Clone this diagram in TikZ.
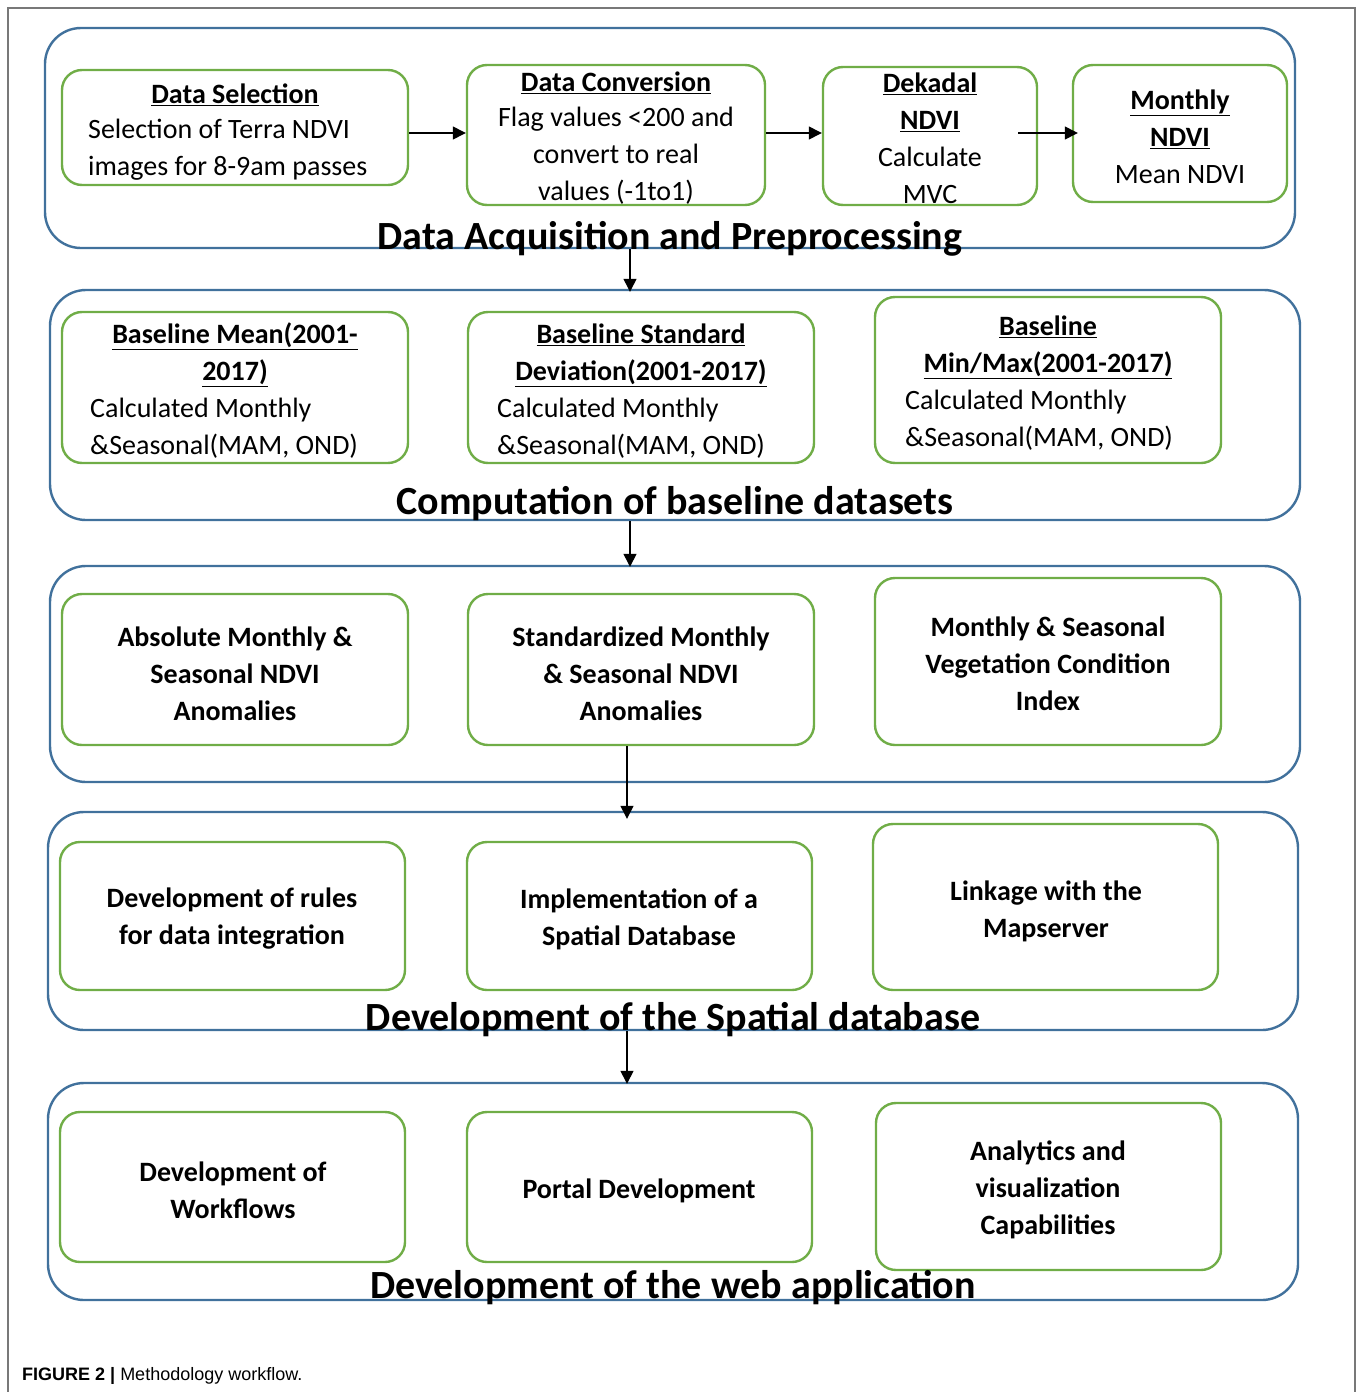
\documentclass[tikz,border=0pt]{standalone}
\usepackage{fontspec}
\setmainfont{Carlito}
\newfontfamily\capfont{Liberation Sans}
\usetikzlibrary{arrows.meta,fit}
\definecolor{grpblue}{RGB}{65,113,156}
\definecolor{boxgreen}{RGB}{112,173,71}
\definecolor{framegray}{RGB}{120,120,120}
\begin{document}
\begin{tikzpicture}[x=1pt,y=-1pt,
  grp/.style={draw=grpblue,line width=2.4pt,rounded corners=36pt,inner sep=0pt},
  gbox/.style={draw=boxgreen,line width=2.4pt,rounded corners=20pt,inner sep=0pt},
  body/.style={font=\fontsize{28}{37}\selectfont,inner sep=0pt,align=center},
  bodyl/.style={font=\fontsize{28}{37}\selectfont,inner sep=0pt,anchor=west,align=left},
  bbody/.style={font=\fontsize{28}{37}\selectfont\bfseries,inner sep=0pt,align=center},
  ttl/.style={font=\fontsize{40}{46}\selectfont\bfseries,inner sep=0pt},
  arr/.style={line width=1.3pt,-{Triangle[width=13pt,length=13pt]}}]
\useasboundingbox (0,0) rectangle (1358,1392);
\draw[framegray,line width=1.4pt] (8,1392) -- (8,8) -- (1355,8) -- (1355,1392);

% groups
\node[grp,fit={(45,28) (1295,248)}] (g1) {};
\node[grp,fit={(50,290) (1300,520)}] (g2) {};
\node[grp,fit={(50,566) (1300,782)}] (g3) {};
\node[grp,fit={(48,812) (1298,1030)}] (g4) {};
\node[grp,fit={(48,1083) (1298,1300)}] (g5) {};

% boxes
\node[gbox,fit={(62,70) (408,185)}] (b11) {};
\node[gbox,fit={(467,65) (765,205)}] (b12) {};
\node[gbox,fit={(823,67) (1037,205)}] (b13) {};
\node[gbox,fit={(1073,65) (1287,202)}] (b14) {};
\node[gbox,fit={(62,312) (408,463)}] (b21) {};
\node[gbox,fit={(468,312) (814,463)}] (b22) {};
\node[gbox,fit={(875,297) (1221,463)}] (b23) {};
\node[gbox,fit={(62,594) (408,745)}] (b31) {};
\node[gbox,fit={(468,594) (814,745)}] (b32) {};
\node[gbox,fit={(875,578) (1221,745)}] (b33) {};
\node[gbox,fit={(60,842) (405,990)}] (b41) {};
\node[gbox,fit={(467,842) (812,990)}] (b42) {};
\node[gbox,fit={(873,824) (1218,990)}] (b43) {};
\node[gbox,fit={(60,1112) (405,1262)}] (b51) {};
\node[gbox,fit={(467,1112) (812,1262)}] (b52) {};
\node[gbox,fit={(876,1103) (1221,1270)}] (b53) {};

\begin{scope}[yshift=-2.5pt]
% group 1 texts
\node[bbody] (t11h) at (235,92) {\underline{Data Selection}};
\node[bodyl] (t11b) at (88,147.5) {Selection of Terra NDVI\\images for 8-9am passes};
\node[bbody] (t12h) at (616,80) {\underline{Data Conversion}};
\node[body] (t12b) at (616,153) {Flag values <200 and\\convert to real\\values (-1to1)};
\node[bbody] (t13h) at (930,99.5) {\underline{Dekadal}\\\underline{NDVI}};
\node[body] (t13b) at (930,172.5) {Calculate\\MVC};
\node[bbody] (t14h) at (1180,116.5) {\underline{Monthly}\\\underline{NDVI}};
\node[body] (t14b) at (1180,172) {Mean NDVI};
\node[ttl] (t1) at (670,236) {Data Acquisition and Preprocessing};

% group 2 texts
\node[bbody] (t21h) at (235,352.5) {\underline{Baseline Mean(2001-}\\\underline{2017)}};
\node[bodyl] (t21b) at (90,426) {Calculated Monthly\\\&Seasonal(MAM, OND)};
\node[bbody] (t22h) at (641,352.5) {\underline{Baseline Standard}\\\underline{Deviation(2001-2017)}};
\node[bodyl] (t22b) at (497,426) {Calculated Monthly\\\&Seasonal(MAM, OND)};
\node[bbody] (t23h) at (1048,344.5) {\underline{Baseline}\\\underline{Min/Max(2001-2017)}};
\node[bodyl] (t23b) at (905,418) {Calculated Monthly\\\&Seasonal(MAM, OND)};
\node[ttl] (t2) at (675,501) {Computation of baseline datasets};

% group 3 texts
\node[bbody] (t31) at (235,671) {Absolute Monthly \&\\Seasonal NDVI\\Anomalies};
\node[bbody] (t32) at (641,671) {Standardized Monthly\\\& Seasonal NDVI\\Anomalies};
\node[bbody] (t33) at (1048,661) {Monthly \& Seasonal\\Vegetation Condition\\Index};

% group 4 texts
\node[bbody] (t41) at (232,916.5) {Development of rules\\for data integration};
\node[bbody] (t42) at (639,916.5) {Implementation of a\\Spatial Database};
\node[bbody] (t43) at (1046,908.5) {Linkage with the\\Mapserver};
\node[ttl] (t4) at (673,1017) {Development of the Spatial database};

% group 5 texts
\node[bbody] (t51) at (233,1187.5) {Development of\\Workflows};
\node[bbody] (t52) at (639,1188) {Portal Development};
\node[bbody] (t53) at (1048,1187) {Analytics and\\visualization\\Capabilities};
\node[ttl] (t5) at (673,1285) {Development of the web application};
\end{scope}

% caption
\node[anchor=west,inner sep=0pt,font=\capfont\fontsize{18}{22}\selectfont] (cap) at (22,1376) {\textbf{FIGURE 2 |} Methodology workflow.};

% arrows
\coordinate (ax1) at (630,0);
\coordinate (ax2) at (627,0);
\coordinate (ay1) at (0,133);
\draw[arr] (b11.east |- ay1) -- (b12.west |- ay1);
\draw[arr] (b12.east |- ay1) -- (b13.west |- ay1);
\draw[arr] ([xshift=-20pt]b13.east |- ay1) -- ([xshift=6pt]b14.west |- ay1);
\draw[arr] (g1.south -| ax1) -- ([yshift=-3pt]g2.north -| ax1);
\draw[arr] (g2.south -| ax1) -- ([yshift=-2pt]g3.north -| ax1);
\draw[arr] (b32.south -| ax2) -- ([yshift=-8pt]g4.north -| ax2);
\draw[arr] (g4.south -| ax2) -- ([yshift=-2pt]g5.north -| ax2);
\end{tikzpicture}
\end{document}
